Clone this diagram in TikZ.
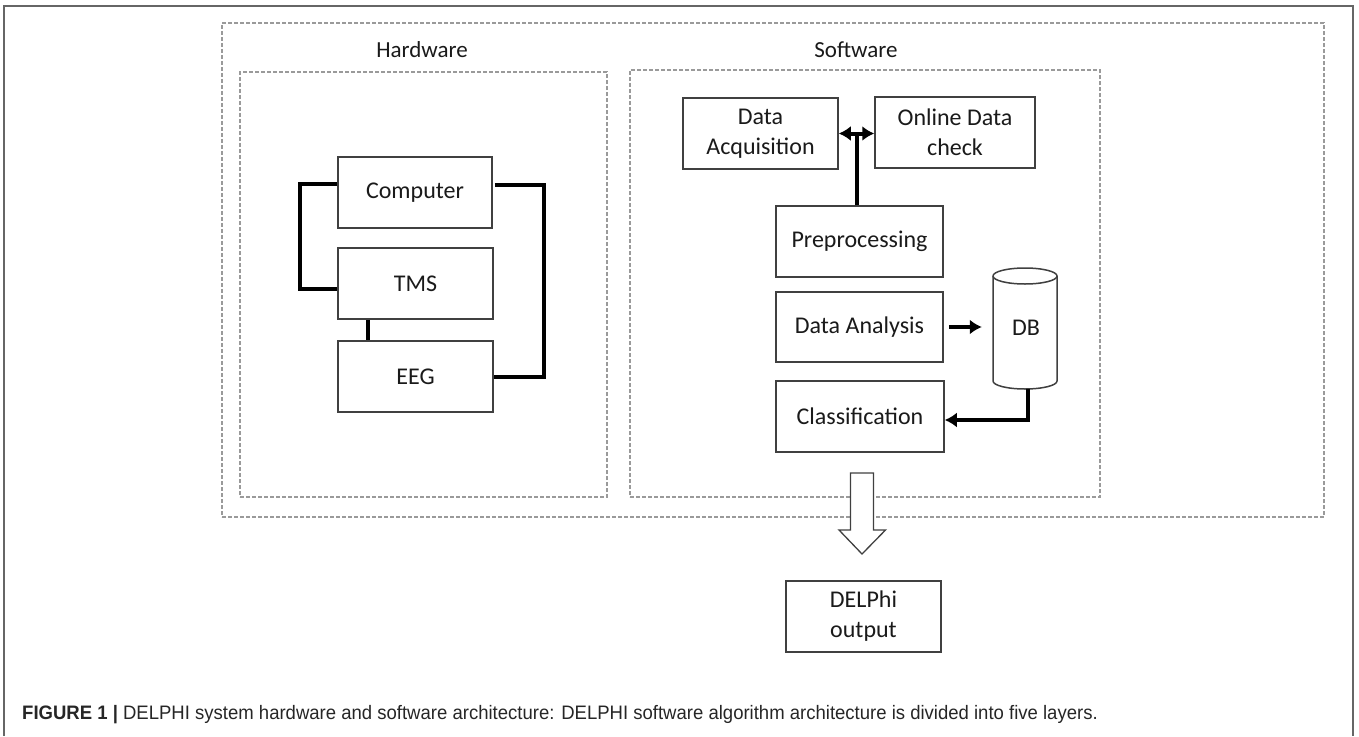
\documentclass[tikz,border=0pt]{standalone}
\usepackage{fontspec}
\setmainfont{Carlito}
\newfontfamily\capfont{Liberation Sans}
\usetikzlibrary{arrows.meta,calc}
\definecolor{boxline}{HTML}{404040}
\definecolor{dashline}{HTML}{9A9A9A}
\definecolor{txt}{HTML}{1A1A1A}
\tikzset{
  blk/.style={draw=boxline,line width=1.5pt,fill=white,align=center,text=txt,font=\fontsize{24}{30}\selectfont,inner sep=0pt},
  dbox/.style={draw=dashline,line width=1.2pt,dash pattern=on 4pt off 2pt,inner sep=0pt},
  conn/.style={line width=4pt,draw=black},
  arr/.style={line width=4pt,draw=black,-{Latex[length=12pt,width=15pt]}},
  darr/.style={line width=4pt,draw=black,{Latex[length=12pt,width=15pt]}-{Latex[length=12pt,width=15pt]}},
  title/.style={text=txt,font=\fontsize{23}{28}\selectfont,inner sep=0pt}
}
\begin{document}
\begin{tikzpicture}[x=1pt,y=-1pt]
\path[use as bounding box] (0,0) rectangle (1359,736);
% page frame
\draw[boxline!80,line width=1.5pt] (4,736) -- (4,6) -- (1353,6) -- (1353,736);
% dashed containers
\node[dbox,minimum width=1102pt,minimum height=494pt] (outer) at (773,270) {};
\node[dbox,minimum width=367pt,minimum height=425pt] (hw) at (423.5,284.5) {};
\node[dbox,minimum width=470pt,minimum height=427pt] (sw) at (865,283.5) {};
\node[title] (hwt) at (422,50) {Hardware};
\node[title] (swt) at (856,50) {Software};
% hardware
\node[blk,minimum width=154pt,minimum height=71pt] (comp) at (415,192.5) {Computer};
\node[blk,minimum width=155pt,minimum height=71pt] (tms) at (415.5,283.5) {TMS};
\node[blk,minimum width=155pt,minimum height=71pt] (eeg) at (415.5,376.5) {EEG};
\draw[conn] ([yshift=8.5pt]comp.west) -- ++(-37,0) |- ([yshift=-5.5pt]tms.west);
\draw[conn] ([yshift=7.5pt,xshift=2pt]comp.east) -- ++(49,0) |- (eeg.east);
\draw[conn] ([xshift=-47.5pt]tms.south) -- ([xshift=-47.5pt]eeg.north);
% software
\node[blk,minimum width=155pt,minimum height=71pt] (acq) at (760.5,133.5) {Data\\Acquisition};
\node[blk,minimum width=160pt,minimum height=71pt] (onl) at (955,132.5) {Online Data\\check};
\node[blk,minimum width=167pt,minimum height=71pt] (pre) at (859.5,241.5) {Preprocessing};
\node[blk,minimum width=167pt,minimum height=70pt] (ana) at (859.5,327) {Data Analysis};
\node[blk,minimum width=168pt,minimum height=71pt] (cls) at (860,416.5) {Classification};
\node[text=txt,font=\fontsize{24}{30}\selectfont,minimum width=64pt,minimum height=121pt,inner sep=0pt] (db) at (1025,328.5) {};
\draw[boxline,line width=1.5pt,fill=white]
  (993,276) -- (993,381) arc[start angle=180,end angle=360,x radius=32,y radius=-8] -- (1057,276)
  arc[start angle=0,end angle=180,x radius=32,y radius=-8] -- cycle;
\draw[boxline,line width=1.5pt] (993,276) arc[start angle=180,end angle=360,x radius=32,y radius=-8];
\node[text=txt,font=\fontsize{24}{30}\selectfont,inner sep=0pt] (dbt) at (1026,328) {DB};
\draw[darr] (acq.east) -- (acq.east -| onl.west);
\draw[conn] ([xshift=-2.5pt]pre.north) -- ([xshift=-2.5pt]pre.north |- acq.east);
\draw[arr] ([xshift=5pt]ana.east) -- ([xshift=-11pt]ana.east -| db.west);
\draw[arr] ([xshift=3pt]db.south) |- ([yshift=-3.5pt]cls.east);
% output
\node[blk,minimum width=155pt,minimum height=71pt] (out) at (863.5,616.5) {DELPhi\\output};
\coordinate (bat) at (862,473);
\draw[boxline,line width=1.3pt,fill=white,line join=miter] ($(bat)+(-11.5,0)$) -- ++(23,0) -- ++(0,57) -- ++(12,0) -- ($(bat)+(0,81)$) -- ($(bat)+(-23,57)$) -- ++(11.5,0) -- cycle;
% caption
\node[anchor=base west,inner sep=0pt,text=black!85,font=\capfont\fontsize{19.5}{23}\selectfont] (cap) at (22,719) {\scalebox{0.95}[1]{\textbf{FIGURE 1 |} DELPHI system hardware and software architecture: DELPHI software algorithm architecture is divided into five layers.}};
\end{tikzpicture}
\end{document}
